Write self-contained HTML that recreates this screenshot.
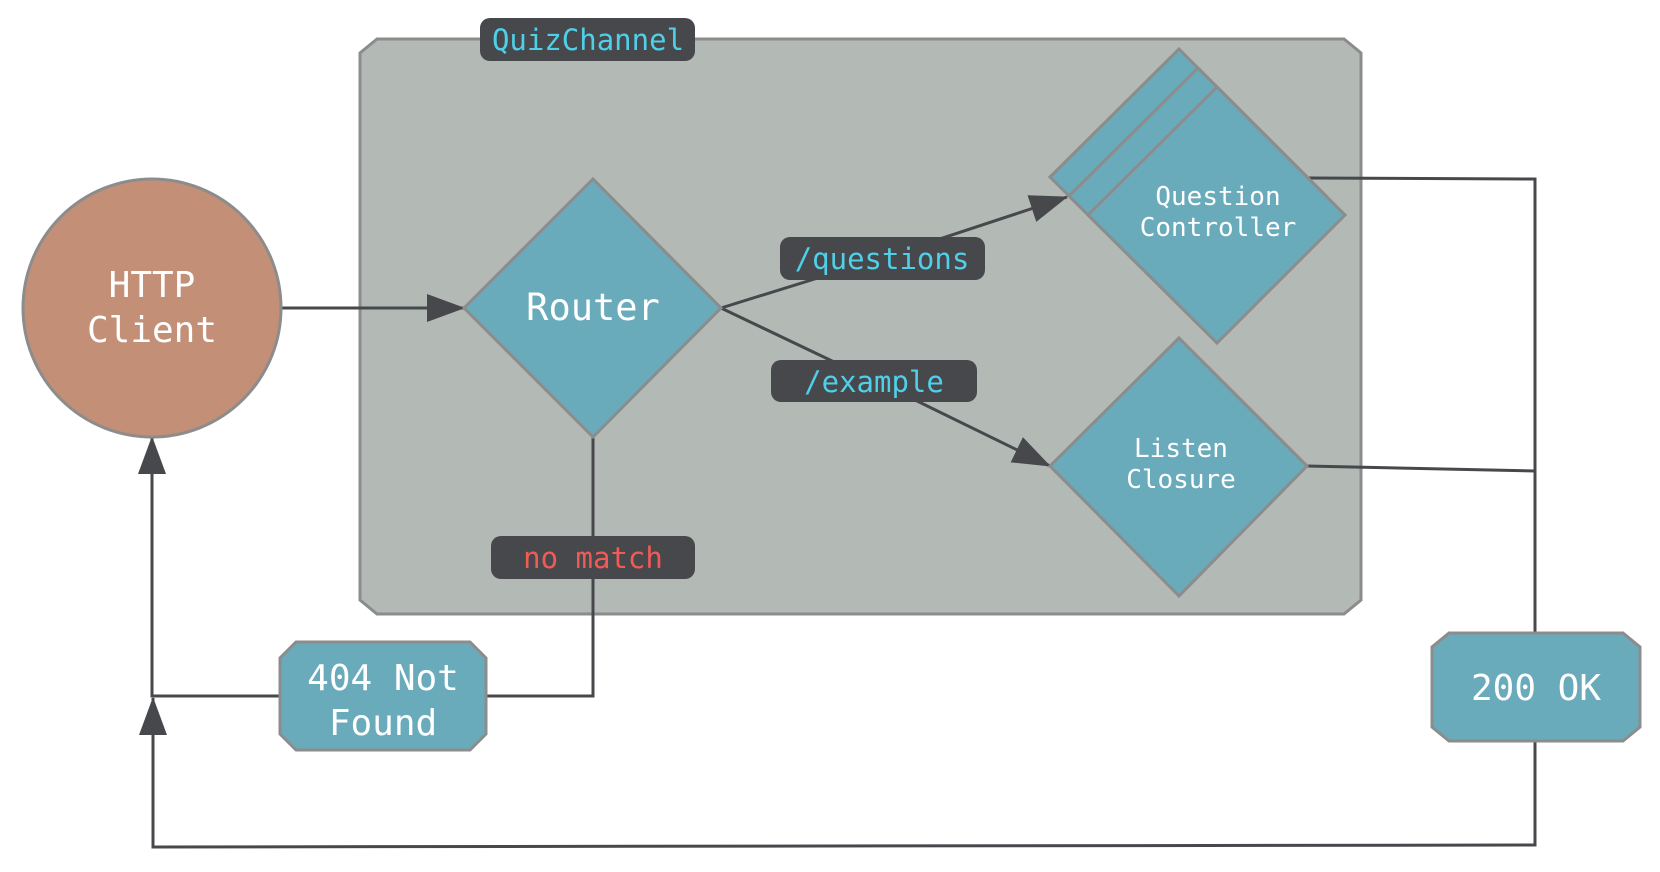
<!DOCTYPE html>
<html><head><style>body{margin:0;background:#fff}svg{display:block}</style></head><body>
<svg width="1660" height="872" viewBox="0 0 1660 872" xmlns="http://www.w3.org/2000/svg" font-family="'DejaVu Sans Mono','Liberation Mono',monospace">
<defs><marker id="a" markerWidth="12" markerHeight="10" refX="11" refY="5" orient="auto" markerUnits="userSpaceOnUse" viewBox="0 0 12 10"><path d="M0,0 L12,5 L0,10z" fill="#47484c"/></marker>
<marker id="b" markerWidth="38" markerHeight="28" refX="37" refY="14" orient="auto" markerUnits="userSpaceOnUse"><path d="M0,0 L38,14 L0,28z" fill="#47484c"/></marker></defs>
<polygon points="377,39 1344,39 1361,53 1361,600 1344,614 377,614 360,600 360,53" fill="#b3b9b5" stroke="#8c8c8c" stroke-width="3"/>
<g stroke="#47484c" stroke-width="3" fill="none">
<line x1="282" y1="308" x2="464" y2="308" marker-end="url(#b)"/>
<polyline points="721,308 882,258 1067,197" marker-end="url(#b)"/>
<polyline points="721,308 830,360 915,400 1050,466" marker-end="url(#b)"/>
<polyline points="593,437 593,696 486,696"/>
<polyline points="280,696 152,696 152,437" marker-end="url(#b)"/>
<polyline points="1309,178 1535,179 1535,633"/>
<line x1="1307" y1="466" x2="1535" y2="471"/>
<polyline points="1535,741 1535,845 153,847 153,698" marker-end="url(#b)"/>
</g>
<circle cx="152" cy="308" r="129" fill="#c38f77" stroke="#8c8c8c" stroke-width="3"/>
<text x="152" y="297" fill="#fff" font-size="36" text-anchor="middle">HTTP</text>
<text x="152" y="342" fill="#fff" font-size="36" text-anchor="middle">Client</text>
<polygon points="593,179 721,308 593,437 464,308" fill="#69abbb" stroke="#8c8c8c" stroke-width="3"/>
<text x="593" y="320" fill="#fff" font-size="37" text-anchor="middle">Router</text>
<g fill="#69abbb" stroke="#8c8c8c" stroke-width="3">
<polygon points="1179,49 1307,177 1179,305 1050,177"/>
<polygon points="1198,68 1326,196 1198,324 1069,196"/>
<polygon points="1217,87 1345,215 1217,343 1088,215"/>
<polygon points="1179,338 1307,466 1179,596 1050,466"/>
</g>
<text x="1218" y="205" fill="#fff" font-size="26" text-anchor="middle">Question</text>
<text x="1218" y="236" fill="#fff" font-size="26" text-anchor="middle">Controller</text>
<text x="1181" y="457" fill="#fff" font-size="26" text-anchor="middle">Listen</text>
<text x="1181" y="488" fill="#fff" font-size="26" text-anchor="middle">Closure</text>
<polygon points="296,642 470,642 486,658 486,734 470,750 296,750 280,734 280,658" fill="#69abbb" stroke="#8c8c8c" stroke-width="3"/>
<text x="383" y="690" fill="#fff" font-size="36" text-anchor="middle">404 Not</text>
<text x="383" y="735" fill="#fff" font-size="36" text-anchor="middle">Found</text>
<polygon points="1449,633 1623,633 1640,647 1640,727 1623,741 1449,741 1432,727 1432,647" fill="#69abbb" stroke="#8c8c8c" stroke-width="3"/>
<text x="1536" y="700" fill="#fff" font-size="36" text-anchor="middle">200 OK</text>
<rect x="480" y="18" width="215" height="43" rx="10" fill="#47484c"/>
<text x="588" y="50" fill="#4fd0e8" font-size="29" text-anchor="middle">QuizChannel</text>
<rect x="780" y="237" width="205" height="43" rx="10" fill="#47484c"/>
<text x="882" y="269" fill="#4fd0e8" font-size="29" text-anchor="middle">/questions</text>
<rect x="771" y="360" width="206" height="42" rx="10" fill="#47484c"/>
<text x="874" y="392" fill="#4fd0e8" font-size="29" text-anchor="middle">/example</text>
<rect x="491" y="536" width="204" height="43" rx="10" fill="#47484c"/>
<text x="593" y="568" fill="#f25a55" font-size="29" text-anchor="middle">no match</text>
</svg>
</body></html>
